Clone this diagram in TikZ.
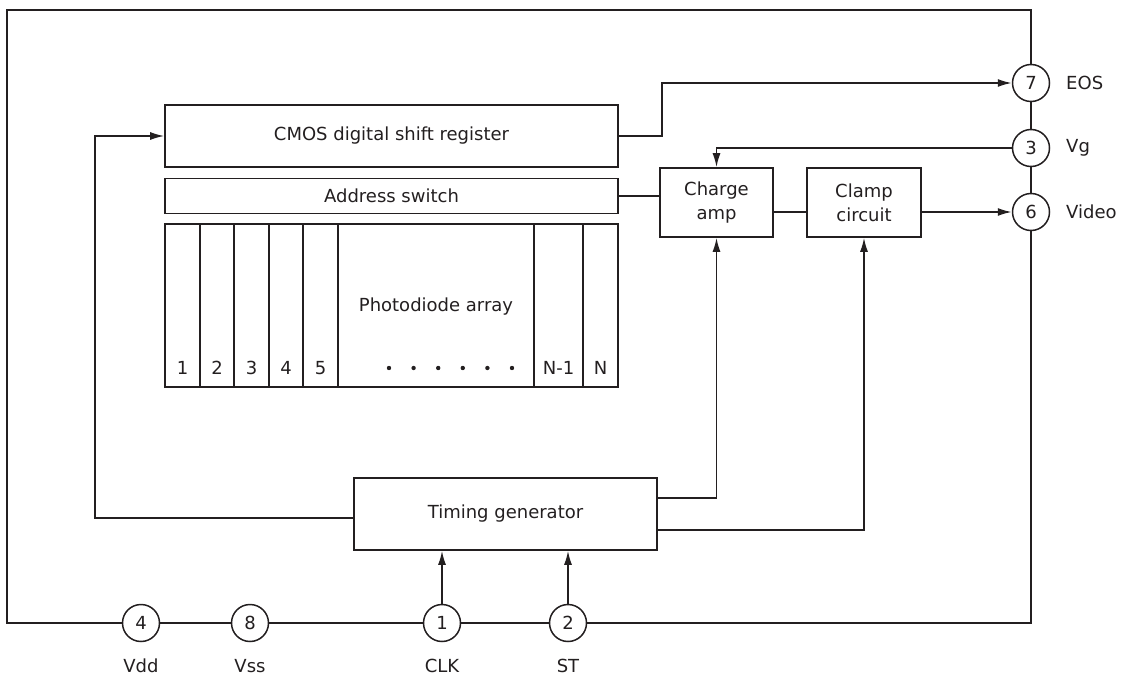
\documentclass[tikz,border=0pt]{standalone}
\usepackage{fontspec}
\setmainfont{DejaVu Sans}
\usetikzlibrary{arrows.meta}
\definecolor{ink}{RGB}{35,31,32}

\begin{document}
\begin{tikzpicture}[
					x = 1pt, y = -1pt,
					every node/.style = {font = \fontsize{18}{24}\selectfont, text = ink},
					block/.style = {draw = ink, line width = 1.6pt, rectangle, inner sep = 0pt, align = center},
					pin/.style = {draw = ink, line width = 1.5pt, circle, fill = white, minimum size = 37pt, inner sep = 0pt},
					pinname/.style = {inner sep = 0pt},
					wire/.style = {draw = ink, line width = 1.6pt},
					>={Latex[length=14pt,width=8pt]}]
					\useasboundingbox (0,0) rectangle (1122,682);

					\draw[ink, line width = 2.6pt] (7,10) rectangle (1031,623);

					\node[block, minimum width = 453pt, minimum height = 62pt] (shift) at (391.5,136) {CMOS digital shift register};
					\node[block, minimum width = 453pt, minimum height = 35pt] (addr) at (391.5,196) {Address switch};
					\node[block, minimum width = 453pt, minimum height = 163pt] (pda) at (391.5,305.5) {};
					\node[] (pdtext) at (436,307) {Photodiode array};
					\node[block, minimum width = 113pt, minimum height = 69pt] (charge) at (716.5,202.5) {Charge\\amp};
					\node[block, minimum width = 114pt, minimum height = 69pt] (clamp) at (864,202.5) {Clamp\\circuit};
					\node[block, minimum width = 303pt, minimum height = 72pt] (timing) at (505.5,514) {Timing generator};

					\foreach \xx in {200,234,269,303,338,534,583}
						\draw[wire] (\xx,224) -- (\xx,387);
					\foreach \xx/\cell in {182.5/1,217/2,251.5/3,286/4,320.5/5,558.5/N-1,600.5/N}
						\node[] at (\xx,368) {\cell};
					\foreach \i in {0,...,5}
						\fill[ink] (389+24.6*\i,368) circle (2.2pt);

					\node[pin] (p7) at (1031,83) {7};
					\node[pin] (p3) at (1031,148) {3};
					\node[pin] (p6) at (1031,212) {6};
					\node[pin] (p4) at (141,623) {4};
					\node[pin] (p8) at (250,623) {8};
					\node[pin] (p1) at (442,623) {1};
					\node[pin] (p2) at (568,623) {2};

					\node[pinname, anchor = west] (eos) at (1066,83) {EOS};
					\node[pinname, anchor = west] (vg) at (1066,148) {Vg};
					\node[pinname, anchor = west] (video) at (1066,212) {Video};
					\node[] (vdd) at (141,666) {Vdd};
					\node[] (vss) at (250,666) {Vss};
					\node[] (clk) at (442,666) {CLK};
					\node[] (st) at (568,666) {ST};

					\draw[wire,->] (shift.east) -- ++(43,0) |- (p7);
					\draw[wire,->] (p3) -| (charge);
					\draw[wire] (addr.east) -- (addr.east -| charge.west);
					\draw[wire] (charge.east |- p6) -- (clamp.west |- p6);
					\draw[wire,->] (clamp.east |- p6) -- (p6);
					\draw[wire,->] ([yshift=-21pt]timing.north east) -| (charge);
					\draw[wire,->] ([yshift=21pt]timing.south east) -| (clamp);
					\draw[wire,->] ([yshift=-4pt]timing.west) -- ++(-258,0) |- (shift.west);
					\draw[wire,->] (p1) -- (p1 |- timing.south);
					\draw[wire,->] (p2) -- (p2 |- timing.south);

				\end{tikzpicture}
\end{document}
